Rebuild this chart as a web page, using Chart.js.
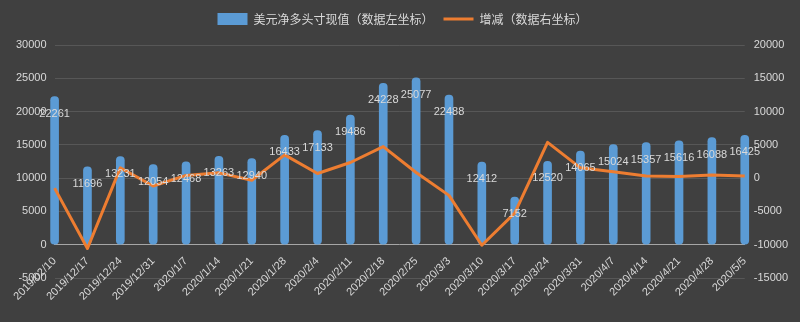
<!DOCTYPE html>
<html>
<head>
<meta charset="utf-8">
<script src="https://cdn.jsdelivr.net/npm/chart.js@4"></script>
<style>
  html, body { margin: 0; padding: 0; background: #404040; }
  #wrap { width: 800px; height: 322px; position: relative; }
</style>
</head>
<body>
<div id="wrap"><canvas id="chart"></canvas></div>
<script>
// categories (weekly report dates)
const dates = ['2019/02/10', '2019/12/17', '2019/12/24', '2019/12/31', '2020/1/7', '2020/1/14', '2020/1/21',
  '2020/1/28', '2020/2/4', '2020/2/11', '2020/2/18', '2020/2/25', '2020/3/3', '2020/3/10', '2020/3/17',
  '2020/3/24', '2020/3/31', '2020/4/7', '2020/4/14', '2020/4/21', '2020/4/28', '2020/5/5'];

// USD net long position (left axis)
const netLong = [22261, 11696, 13231, 12054, 12468, 13263, 12940, 16433, 17133, 19486, 24228,
  25077, 22488, 12412, 7152, 12520, 14065, 15024, 15357, 15616, 16088, 16425];

// change (right axis)
const change = [-1500, -10565, 1535, -1177, 414, 795, -323, 3493, 700, 2353, 4742,
  849, -2589, -10076, -5260, 5368, 1545, 959, 333, 259, 472, 337];

const textColor = '#d9d9d9';
const tickFont = { family: 'Liberation Sans', size: 11 };
const plain = (v) => String(v); // no thousands separator

// draws the value inside the top of each bar, like the Excel labels
const barLabels = {
  id: 'barLabels',
  afterDatasetsDraw(chart) {
    const meta = chart.getDatasetMeta(0);
    const ctx = chart.ctx;
    ctx.save();
    ctx.font = '11px "Liberation Sans"';
    ctx.fillStyle = textColor;
    ctx.textAlign = 'center';
    ctx.textBaseline = 'middle';
    meta.data.forEach((bar, i) => {
      ctx.fillText(String(netLong[i]), bar.x, bar.y + 17);
    });
    ctx.restore();
  }
};

// extra space under the legend
const legendGap = {
  id: 'legendGap',
  afterInit(chart) {
    const fit = chart.legend.fit;
    chart.legend.fit = function () {
      fit.bind(chart.legend)();
      this.height += 10;
    };
  }
};

new Chart(document.getElementById('chart'), {
  data: {
    labels: dates,
    datasets: [
      {
        type: 'bar',
        label: '美元净多头寸现值（数据左坐标）',
        data: netLong,
        yAxisID: 'y',
        backgroundColor: '#5b9bd5',
        borderWidth: 0,
        borderRadius: 4,
        borderSkipped: false,
        barThickness: 8,
        pointStyle: 'rect',
        clip: false,
        order: 1
      },
      {
        type: 'line',
        label: '增减（数据右坐标）',
        data: change,
        yAxisID: 'y1',
        borderColor: '#ed7d31',
        backgroundColor: '#ed7d31',
        borderWidth: 3,
        pointRadius: 0,
        pointStyle: 'line',
        pointBorderColor: '#ed7d31',
        pointBorderWidth: 3,
        tension: 0,
        borderJoinStyle: 'round',
        order: 0
      }
    ]
  },
  options: {
    responsive: true,
    maintainAspectRatio: false,
    animation: false,
    layout: { padding: { top: 3, left: 8, right: 3, bottom: 44 } },
    plugins: {
      tooltip: { enabled: false },
      legend: {
        position: 'top',
        labels: {
          color: textColor,
          font: { family: 'Noto Sans CJK SC', size: 12 },
          usePointStyle: true,
          pointStyleWidth: 30,
          boxHeight: 12,
          padding: 10,
          sort: (a, b) => a.datasetIndex - b.datasetIndex
        }
      }
    },
    scales: {
      x: {
        position: { y: 0 },
        offset: false,
        grid: { display: false },
        border: { display: true, color: '#a6a6a6', width: 1 },
        ticks: {
          color: textColor,
          font: tickFont,
          maxRotation: 45,
          minRotation: 45,
          autoSkip: false,
          padding: 2
        },
        afterFit(scale) {
          scale.paddingLeft = 0;
          scale.paddingRight = 0;
        }
      },
      y: {
        position: 'left',
        min: -5000,
        max: 30000,
        ticks: { stepSize: 5000, color: textColor, font: tickFont, padding: 8, callback: plain },
        grid: { color: '#575757', drawTicks: false },
        border: { display: false }
      },
      y1: {
        position: 'right',
        min: -15000,
        max: 20000,
        ticks: { stepSize: 5000, color: textColor, font: tickFont, padding: 9, callback: plain },
        grid: { drawOnChartArea: false, drawTicks: false },
        border: { display: false }
      }
    }
  },
  plugins: [barLabels, legendGap]
});
</script>
</body>
</html>
